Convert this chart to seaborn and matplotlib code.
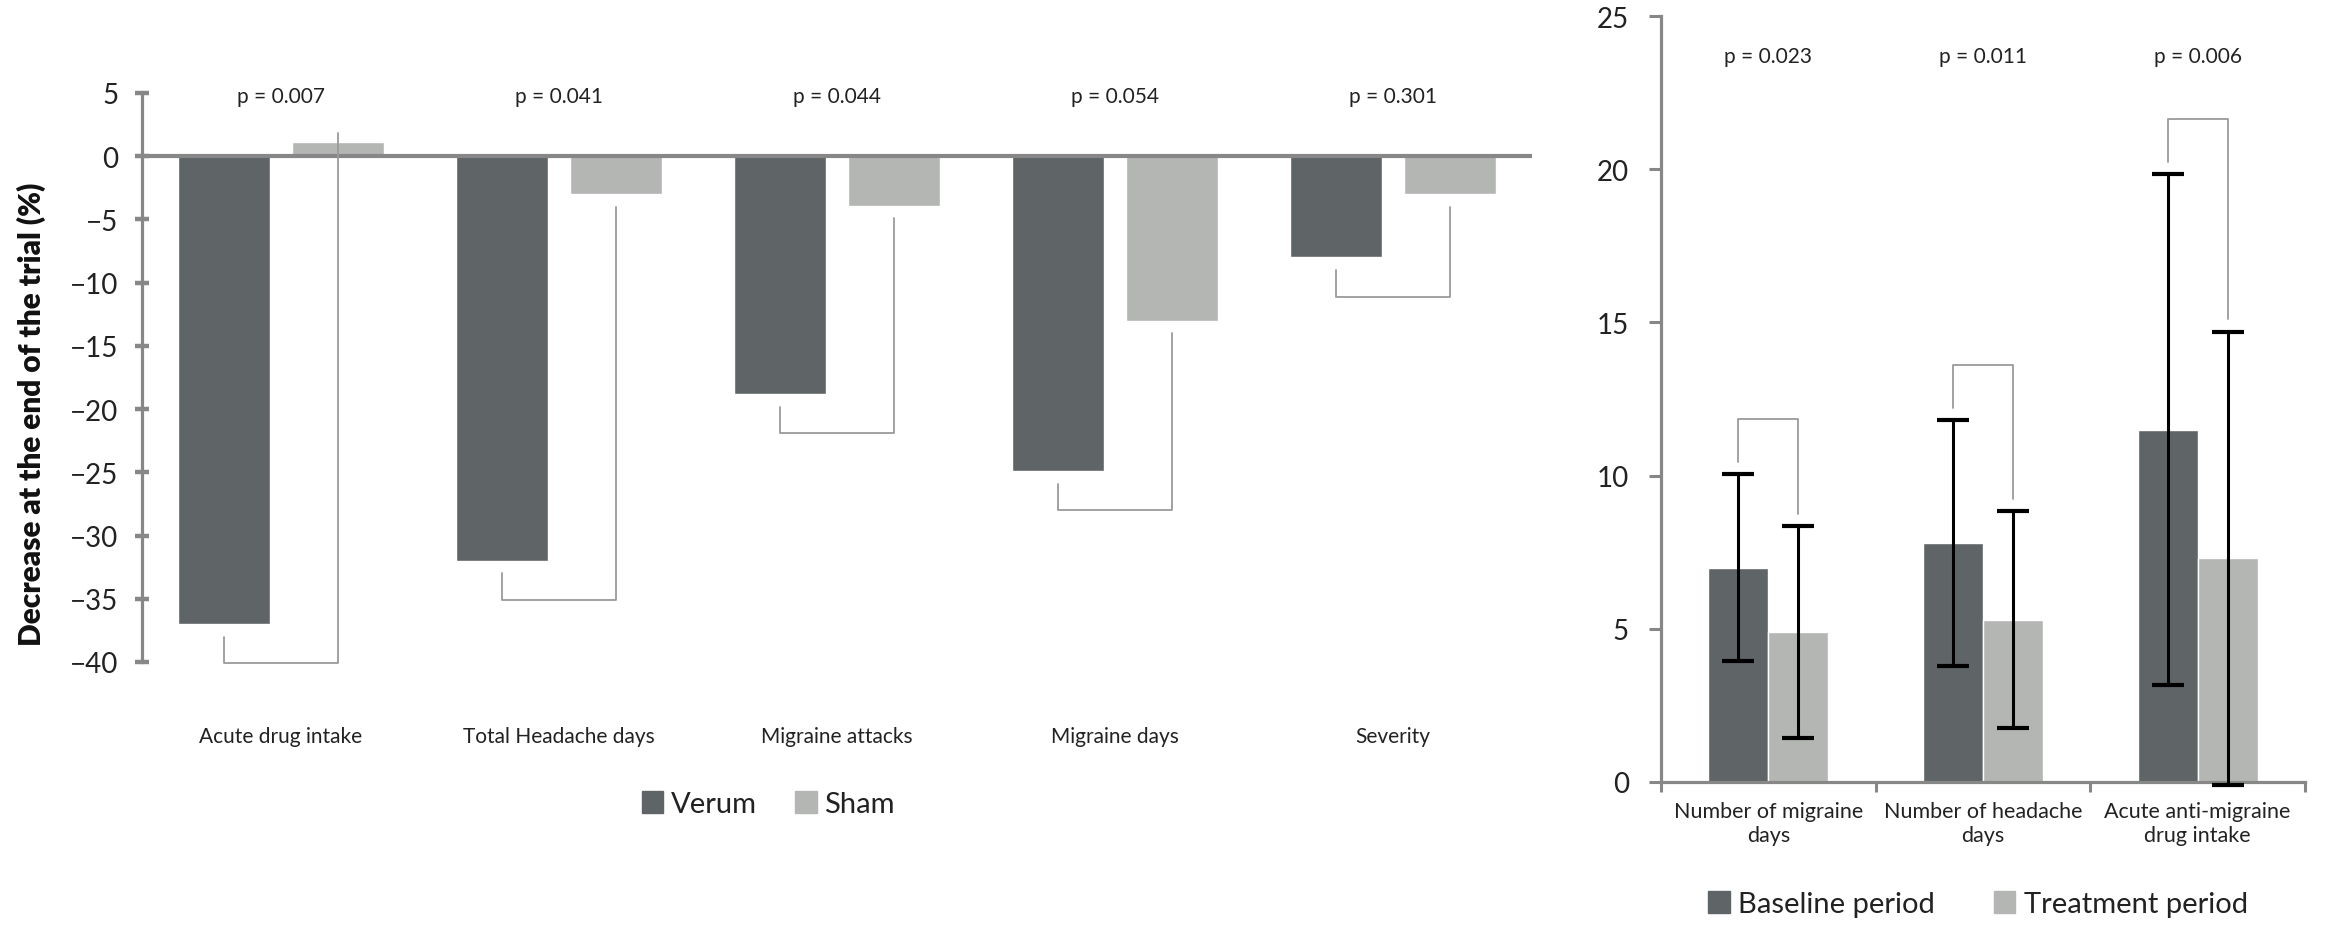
import numpy as np
import pandas as pd
import matplotlib
matplotlib.use("Agg")
import matplotlib.pyplot as plt
from matplotlib.patches import Patch
import seaborn as sns

# ---- data: change from baseline (%) ----
outcomes = ["Acute drug intake", "Total Headache days", "Migraine attacks",
            "Migraine days", "Severity"]
verum_change = [-37.0, -32.0, -18.8, -24.9, -8.0]
sham_change = [1.1, -3.0, -3.9, -13.0, -3.0]
p_change = ["p = 0.007", "p = 0.041", "p = 0.044", "p = 0.054", "p = 0.301"]

# ---- data: baseline vs treatment (mean, SD) ----
measures = ["Number of migraine\ndays", "Number of headache\ndays",
            "Acute anti-migraine\ndrug intake"]
baseline_mean = [7.0, 7.8, 11.5]
baseline_sd = [3.05, 4.0, 8.35]
treatment_mean = [4.9, 5.3, 7.3]
treatment_sd = [3.45, 3.55, 7.4]
p_period = ["p = 0.023", "p = 0.011", "p = 0.006"]

DARK = "#5f6466"
LIGHT = "#b4b6b3"
AXIS = "#878787"
BRACKET = "#9a9a9a"

sns.set_theme(style="white")
plt.rcParams["font.family"] = ["Lato", "DejaVu Sans"]

fig = plt.figure(figsize=(23.28, 9.28), dpi=100)
W, H = 2328, 928


def px_axes(x0, y_top, x1, y_bot):
    return fig.add_axes([x0 / W, 1 - y_bot / H, (x1 - x0) / W, (y_bot - y_top) / H])


# ================= left panel =================
ax1 = px_axes(142, 94, 1532, 663)
df1 = pd.DataFrame({
    "outcome": outcomes * 2,
    "change": verum_change + sham_change,
    "group": ["Verum"] * len(outcomes) + ["Sham"] * len(outcomes),
})
sns.barplot(data=df1, x="outcome", y="change", hue="group",
            palette={"Verum": DARK, "Sham": LIGHT}, width=0.82, gap=0.2,
            saturation=1, errorbar=None, legend=False, ax=ax1, zorder=2)
ax1.set_xlim(-0.5, len(outcomes) - 0.5)
ax1.set_ylim(-40, 5)
ax1.set_yticks(np.arange(-40, 6, 5))
ax1.set_xlabel("")
ax1.set_ylabel("")
for s in ["top", "right", "bottom"]:
    ax1.spines[s].set_visible(False)
ax1.spines["left"].set_color(AXIS)
ax1.spines["left"].set_linewidth(2.3)
ax1.spines["left"].set_bounds(-40, 5)
ax1.axhline(0, color=AXIS, lw=3.0, zorder=3)
ax1.tick_params(axis="y", direction="inout", length=10, width=3.2, color=AXIS,
                labelsize=20, pad=12, labelcolor="#222222", left=True)
ax1.tick_params(axis="x", length=0, pad=46, labelsize=15, labelcolor="#222222")

v_bars = ax1.containers[0]
s_bars = ax1.containers[1]
for i in range(len(outcomes)):
    xv = v_bars[i].get_x() + v_bars[i].get_width() / 2
    xs = s_bars[i].get_x() + s_bars[i].get_width() / 2
    v, s = verum_change[i], sham_change[i]
    bottom = min(v, s) - 3.1
    v_top = v - 1.0
    s_top = s + 0.7 if s > 0 else s - 1.0
    ax1.plot([xv, xv, xs, xs], [v_top, bottom, bottom, s_top], color=BRACKET,
             lw=1.3, clip_on=False, zorder=4)
    ax1.text(i, 4.8, p_change[i], ha="center", va="center", fontsize=15,
             color="#222222")

fig.text(31 / W, 1 - 414 / H, "Decrease at the end of the trial (%)",
         rotation=90, ha="center", va="center", fontsize=21.5, fontweight="heavy",
         color="#111111")

fig.legend(handles=[Patch(color=DARK, label="Verum"), Patch(color=LIGHT, label="Sham")],
           loc="center", bbox_to_anchor=(768 / W, 1 - 805 / H), ncol=2,
           frameon=False, fontsize=21, handlelength=0.75, handleheight=0.75,
           handletextpad=0.25, columnspacing=1.3, labelcolor="#222222")

# ================= right panel =================
ax2 = px_axes(1661, 17, 2305, 783)
df2 = pd.DataFrame({
    "measure": measures * 2,
    "value": baseline_mean + treatment_mean,
    "period": ["Baseline period"] * len(measures) + ["Treatment period"] * len(measures),
})
sns.barplot(data=df2, x="measure", y="value", hue="period",
            palette={"Baseline period": DARK, "Treatment period": LIGHT},
            width=0.56, gap=0, saturation=1, errorbar=None, legend=False,
            ax=ax2, zorder=2)
ax2.set_xlim(-0.5, len(measures) - 0.5)
ax2.set_ylim(0, 25)
ax2.set_yticks(np.arange(0, 26, 5))
ax2.set_xlabel("")
ax2.set_ylabel("")
for s in ["top", "right"]:
    ax2.spines[s].set_visible(False)
for s in ["left", "bottom"]:
    ax2.spines[s].set_color(AXIS)
    ax2.spines[s].set_linewidth(2.3)
ax2.tick_params(axis="y", direction="out", length=9, width=2.2, color=AXIS,
                labelsize=20, pad=14, labelcolor="#222222", left=True)
ax2.set_xticks(np.arange(-0.5, len(measures), 1.0), minor=True)
ax2.tick_params(axis="x", which="minor", direction="out", length=7, width=2.2,
                color=AXIS, bottom=True)
ax2.tick_params(axis="x", which="major", length=0, pad=14, labelsize=15.5,
                labelcolor="#222222")
for lab in ax2.get_xticklabels():
    lab.set_linespacing(1.25)

b_bars = ax2.containers[0]
t_bars = ax2.containers[1]
xb = [p.get_x() + p.get_width() / 2 for p in b_bars]
xt = [p.get_x() + p.get_width() / 2 for p in t_bars]
err_kw = dict(fmt="none", ecolor="black", elinewidth=2.2, capsize=11.5,
              capthick=3.0, clip_on=False, zorder=5)
ax2.errorbar(xb, baseline_mean, yerr=baseline_sd, **err_kw)
ax2.errorbar(xt, treatment_mean, yerr=treatment_sd, **err_kw)

for i in range(len(measures)):
    b_hi = baseline_mean[i] + baseline_sd[i]
    t_hi = treatment_mean[i] + treatment_sd[i]
    top = max(b_hi, t_hi) + 1.8
    ax2.plot([xb[i], xb[i], xt[i], xt[i]], [b_hi + 0.4, top, top, t_hi + 0.4],
             color=BRACKET, lw=1.3, zorder=4)
    ax2.text(i, 23.7, p_period[i], ha="center", va="center", fontsize=15,
             color="#222222")

fig.legend(handles=[Patch(color=DARK, label="Baseline period"),
                    Patch(color=LIGHT, label="Treatment period")],
           loc="center", bbox_to_anchor=(1978 / W, 1 - 905 / H), ncol=2,
           frameon=False, fontsize=21, handlelength=0.75, handleheight=0.75,
           handletextpad=0.3, columnspacing=2.0, labelcolor="#222222")

fig.savefig("out.png", dpi=100)
